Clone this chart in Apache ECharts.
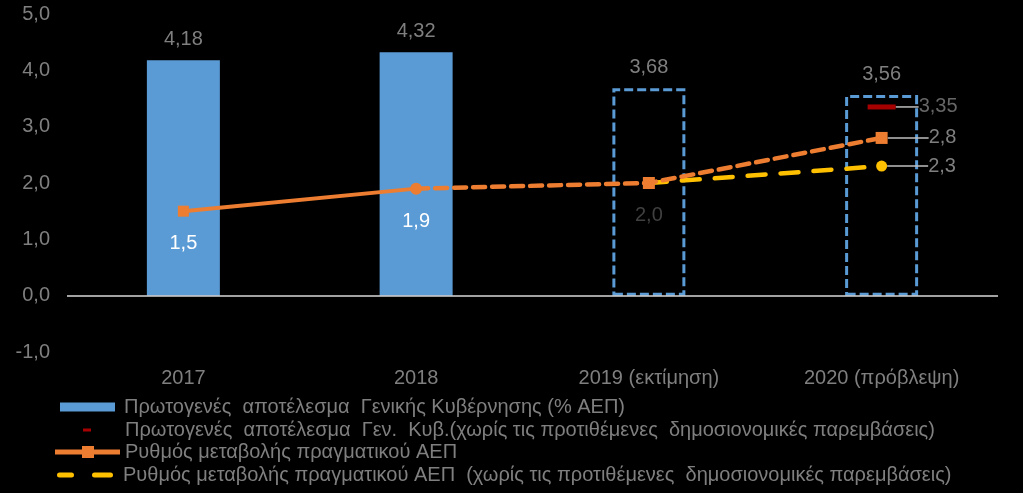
<!DOCTYPE html>
<html><head><meta charset="utf-8">
<script src="https://cdn.jsdelivr.net/npm/echarts@6/dist/echarts.min.js"></script>
<style>html,body{margin:0;padding:0;background:#000;}#c{width:1023px;height:493px;}</style>
</head><body><div id="c"></div>
<script>
var categories = ['2017', '2018', '2019 (εκτίμηση)', '2020 (πρόβλεψη)'];
var primaryBalance = [4.18, 4.32, 3.68, 3.56];
var primaryBalanceNoMeasures = [null, null, null, 3.35];
var gdpGrowthActual = [1.5, 1.9, null, null];
var gdpGrowthForecast = [null, 1.9, 2.0, 2.8];
var gdpGrowthNoMeasures = [null, null, 2.0, 2.3];
var seriesNames = [
  'Πρωτογενές  αποτέλεσμα  Γενικής Κυβέρνησης (% ΑΕΠ)',
  'Πρωτογενές  αποτέλεσμα  Γεν.  Κυβ.(χωρίς τις προτιθέμενες  δημοσιονομικές παρεμβάσεις)',
  'Ρυθμός μεταβολής πραγματικού ΑΕΠ',
  'Ρυθμός μεταβολής πραγματικού ΑΕΠ  (χωρίς τις προτιθέμενες  δημοσιονομικές παρεμβάσεις)'
];
var forecastFrom = 2;

function fmt(v, d) { return Number(v).toFixed(d).replace('.', ','); }

var BLUE = '#5b9bd5', ORANGE = '#ed7d31', YELLOW = '#ffc000', RED = '#d00000', GRAY = '#7f7f7f';
var FONT = 'Liberation Sans, Arial, sans-serif';
var FS = 20;

var barData = primaryBalance.map(function (v, i) {
  if (i < forecastFrom) return v;
  return { value: v, itemStyle: { color: 'rgba(0,0,0,0)', borderColor: BLUE, borderWidth: 3, borderType: [9, 4] } };
});

var forecastData = gdpGrowthForecast.map(function (v, i) {
  if (v == null) return null;
  if (i === 2) return { value: v, label: { show: true, position: 'bottom', distance: 16, color: '#404040', formatter: function (p) { return fmt(p.value, 1); } } };
  if (i === 3) return { value: v, label: { show: true, position: 'right', distance: 5, color: GRAY, formatter: function (p) { return fmt(p.value, 1); } }, labelLine: { show: true, lineStyle: { color: '#bfbfbf', width: 1.5 } } };
  return { value: v, symbolSize: 0 };
});

var noMeasData = gdpGrowthNoMeasures.map(function (v, i) {
  if (v == null) return null;
  if (i === 3) return { value: v, symbol: 'circle', symbolSize: 11, label: { show: true, position: 'right', distance: 5, color: GRAY, formatter: function (p) { return fmt(p.value, 1); } }, labelLine: { show: true, lineStyle: { color: '#bfbfbf', width: 1.5 } } };
  return v;
});

var actualData = gdpGrowthActual.map(function (v, i) {
  if (v == null) return null;
  if (i === 1) return { value: v, symbol: 'circle', symbolSize: 12 };
  return v;
});

var chart = echarts.init(document.getElementById('c'), null, { renderer: 'canvas' });
var legendText = { color: GRAY, fontSize: FS, fontFamily: FONT };
function lg(extra, pad) {
  return Object.assign({ orient: 'vertical', padding: 0, itemGap: 0, textStyle: Object.assign({}, legendText, { padding: [0, 0, 0, pad] }) }, extra);
}
chart.setOption({
  backgroundColor: '#000',
  animation: false,
  textStyle: { fontFamily: FONT },
  grid: { left: 67, right: 25, top: 14, bottom: 141 },
  xAxis: {
    type: 'category', data: categories,
    axisLine: { show: false }, axisTick: { show: false },
    axisLabel: { color: GRAY, fontSize: FS, margin: 16, fontFamily: FONT }
  },
  yAxis: {
    type: 'value', min: -1, max: 5, interval: 1,
    axisLine: { show: false }, axisTick: { show: false }, splitLine: { show: false },
    axisLabel: { color: GRAY, fontSize: FS, margin: 17, fontFamily: FONT, formatter: function (v) { return fmt(v, 1); } }
  },
  legend: [
    lg({ left: 60, top: 397, itemWidth: 55, itemHeight: 9, data: [{ name: seriesNames[0], icon: 'rect' }] }, 4),
    lg({ left: 83, top: 420, itemWidth: 8, itemHeight: 3, data: [{ name: seriesNames[1], icon: 'rect' }] }, 29),
    lg({ left: 55, top: 442, itemWidth: 65, itemHeight: 12, data: [{ name: seriesNames[2], icon: 'path://M0,3.5h27v5h-27zM27,0h12v12h-12zM39,3.5h26v5h-26z' }] }, 0),
    lg({ left: 57, top: 465, itemWidth: 56, itemHeight: 5, data: [{ name: seriesNames[3], icon: 'path://M2.5,0h12a2.5,2.5 0 0 1 0,5h-12a2.5,2.5 0 0 1 0,-5zM37.5,0h16a2.5,2.5 0 0 1 0,5h-16a2.5,2.5 0 0 1 0,-5z' }] }, 5)
  ],
  series: [
    {
      name: seriesNames[0], type: 'bar', data: barData, barWidth: 73,
      itemStyle: { color: BLUE },
      label: { show: true, position: 'top', distance: 11, color: GRAY, fontSize: FS, formatter: function (p) { return fmt(p.value, 2); } },
      markLine: { silent: true, symbol: 'none', label: { show: false }, lineStyle: { color: '#d9d9d9', width: 1.5, type: 'solid' }, data: [{ yAxis: 0 }] },
      z: 1
    },
    {
      name: seriesNames[1], type: 'scatter', data: primaryBalanceNoMeasures,
      symbol: 'rect', symbolSize: [28, 5], itemStyle: { color: RED },
      label: { show: true, position: 'right', distance: 5, color: GRAY, fontSize: FS, formatter: function (p) { return fmt(p.value, 2); } },
      labelLine: { show: true, lineStyle: { color: '#bfbfbf', width: 1.5 } },
      labelLayout: { dx: 18 },
      z: 5
    },
    {
      name: 'forecast', type: 'line', data: forecastData,
      symbol: 'rect', symbolSize: 12, connectNulls: false,
      itemStyle: { color: ORANGE },
      lineStyle: { color: ORANGE, width: 4.5, type: [12, 7], cap: 'round' },
      label: { show: false, fontSize: FS },
      labelLayout: function (p) { return p.dataIndex === 3 ? { dx: 36 } : {}; },
      z: 4
    },
    {
      name: seriesNames[2], type: 'line', data: actualData,
      symbol: 'rect', symbolSize: 11,
      itemStyle: { color: ORANGE },
      lineStyle: { color: ORANGE, width: 4 },
      label: { show: true, position: 'bottom', distance: 17, color: '#fff', fontSize: FS, formatter: function (p) { return fmt(p.value, 1); } },
      z: 4
    },
    {
      name: seriesNames[3], type: 'line', data: noMeasData,
      symbol: 'none', itemStyle: { color: YELLOW },
      lineStyle: { color: YELLOW, width: 4.5, type: [18, 15], cap: 'round' },
      label: { fontSize: FS },
      labelLayout: function (p) { return p.dataIndex === 3 ? { dx: 36 } : {}; },
      z: 3
    }
  ]
});
</script></body></html>
